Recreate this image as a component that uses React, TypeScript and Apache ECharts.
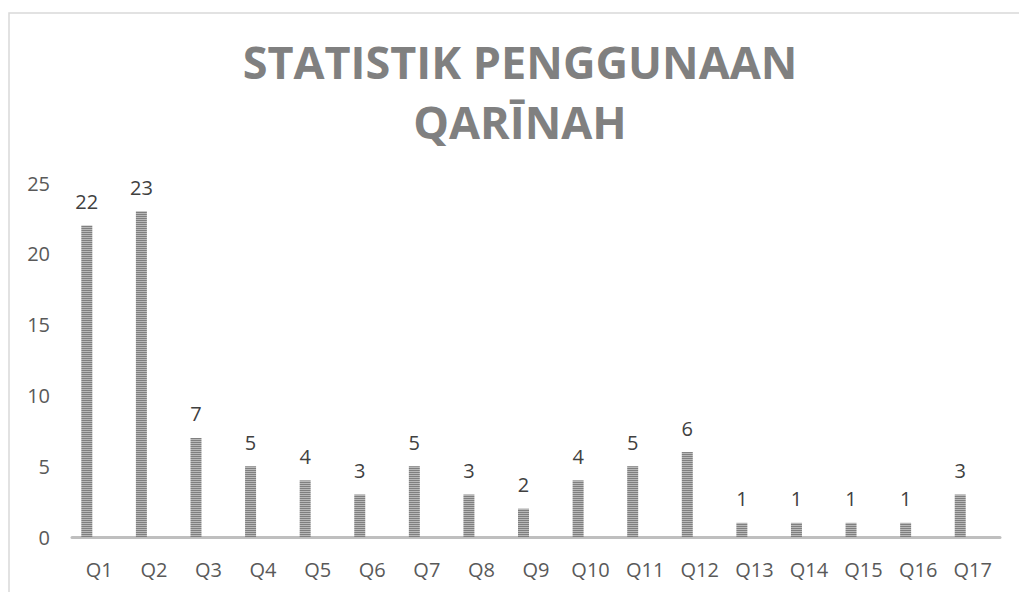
import React, { useEffect, useRef } from "react";
import * as echarts from "echarts";

const categories = ["Q1","Q2","Q3","Q4","Q5","Q6","Q7","Q8","Q9","Q10","Q11","Q12","Q13","Q14","Q15","Q16","Q17"];
const values = [22, 23, 7, 5, 4, 3, 5, 3, 2, 4, 5, 6, 1, 1, 1, 1, 3];
const emptyValues = categories.map(() => "-");
const titleText = "STATISTIK PENGGUNAAN\nQARĪNAH";
const yTicks = { min: 0, max: 25, interval: 5 };

export default function App() {
  const ref = useRef<HTMLDivElement>(null);
  useEffect(() => {
    if (!ref.current) return;
    const chart = echarts.init(ref.current, undefined, { renderer: "svg" });
    const cv = document.createElement("canvas");
    cv.width = 4;
    cv.height = 2;
    const ctx = cv.getContext("2d")!;
    ctx.fillStyle = "#7f7f7f";
    ctx.fillRect(0, 0, 4, 1);
    ctx.fillStyle = "#b8b8b8";
    ctx.fillRect(0, 1, 4, 1);
    const font = "'Open Sans', 'Noto Sans', sans-serif";
    chart.setOption({
      animation: false,
      backgroundColor: "#ffffff",
      title: {
        text: titleText,
        left: 515,
        top: 26,
        textAlign: "center",
        textStyle: {
          fontFamily: font,
          fontWeight: "bold",
          fontSize: 45,
          lineHeight: 60,
          color: "#808080",
        },
      },
      graphic: [
        {
          type: "rect",
          shape: { x: 9, y: 13, width: 1030, height: 620 },
          style: { fill: "none", stroke: "#d9d9d9", lineWidth: 1.5 },
          silent: true,
          z: -1,
        },
      ],
      grid: { left: 72, right: 19, top: 183, bottom: 55, containLabel: false },
      xAxis: {
        type: "category",
        data: categories,
        axisLine: { show: true, lineStyle: { color: "#bfbfbf", width: 3 } },
        axisTick: { show: false },
        axisLabel: { color: "#595959", fontFamily: font, fontSize: 20, margin: 22 },
        splitLine: { show: false },
      },
      yAxis: {
        type: "value",
        min: yTicks.min,
        max: yTicks.max,
        interval: yTicks.interval,
        axisLine: { show: false },
        axisTick: { show: false },
        splitLine: { show: false },
        axisLabel: { color: "#595959", fontFamily: font, fontSize: 20, margin: 22 },
      },
      series: [
        {
          type: "bar",
          data: values,
          barWidth: 11,
          barGap: "127%",
          itemStyle: { color: { image: cv, repeat: "repeat" } },
          label: {
            show: true,
            position: "top",
            distance: 14,
            color: "#404040",
            fontFamily: font,
            fontSize: 20,
          },
        },
        {
          type: "bar",
          data: emptyValues,
          barWidth: 11,
          silent: true,
          itemStyle: { color: "transparent" },
        },
      ],
    });
    return () => chart.dispose();
  }, []);
  return (
    <div
      ref={ref}
      style={{ position: "fixed", left: 0, top: 0, width: 1019, height: 592 }}
    />
  );
}
